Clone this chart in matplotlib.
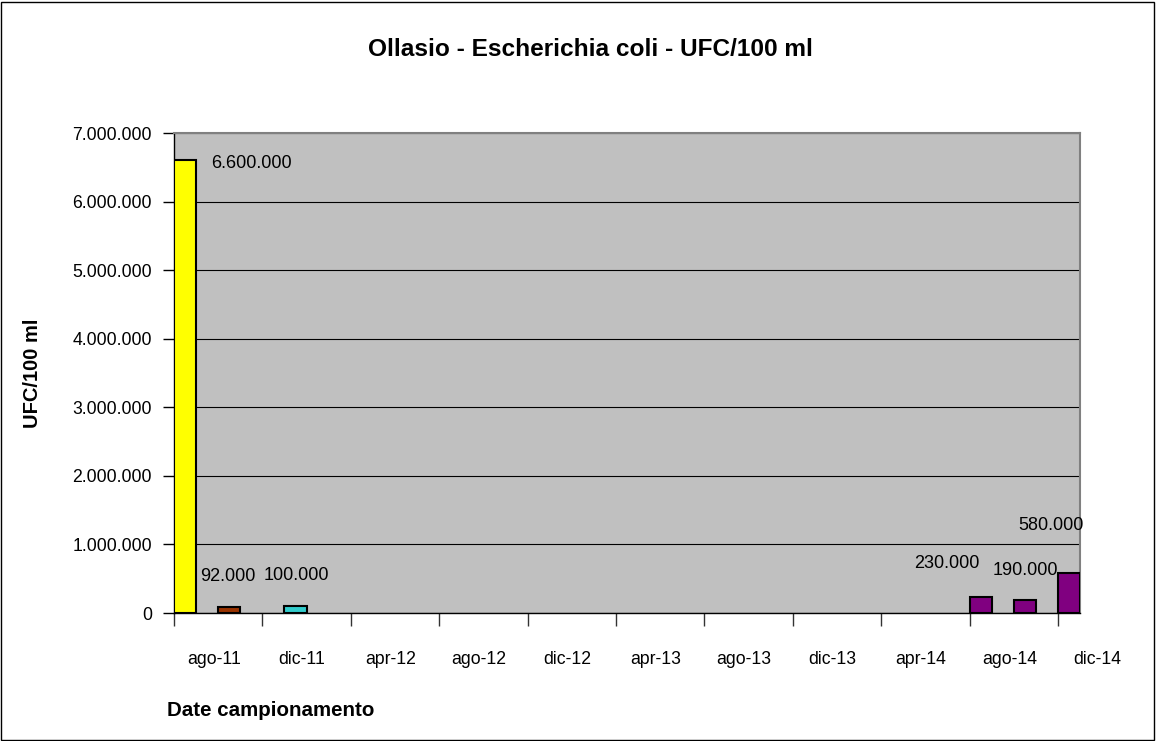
import matplotlib
matplotlib.use("Agg")
import matplotlib.pyplot as plt
from matplotlib.patches import Rectangle
from matplotlib.ticker import FuncFormatter, FixedLocator
from matplotlib.transforms import blended_transform_factory

plt.rcParams['font.family'] = ['Liberation Sans', 'DejaVu Sans']

# ---- data ----
months_it = ['gen', 'feb', 'mar', 'apr', 'mag', 'giu', 'lug', 'ago', 'set', 'ott', 'nov', 'dic']
sample_dates = ['ago-11', 'ott-11', 'gen-12', 'ago-14', 'ott-14', 'dic-14']
values = [6600000, 92000, 100000, 230000, 190000, 580000]
bar_colors = ['#FFFF00', '#993300', '#33CCCC', '#800080', '#800080', '#800080']
tick_labels = ['ago-11', 'dic-11', 'apr-12', 'ago-12', 'dic-12', 'apr-13',
               'ago-13', 'dic-13', 'apr-14', 'ago-14', 'dic-14']
yticks = [0, 1000000, 2000000, 3000000, 4000000, 5000000, 6000000, 7000000]
# label offsets in pixels (dx, dy) relative to bar top centre
label_offsets = [(66, -3), (-1, 30), (1, 31), (-34, 34), (1, 29), (-18, 48)]


def month_index(label, start='ago-11'):
    def absm(s):
        m, y = s.split('-')
        return int(y) * 12 + months_it.index(m)
    return absm(label) - absm(start)


W, H = 1156, 741
fig = plt.figure(figsize=(W / 100, H / 100), dpi=100)
ax = fig.add_axes([174 / W, 1 - 613 / H, (1080 - 174) / W, (613 - 133) / H])
ax.set_facecolor('#C0C0C0')

n_months = month_index('dic-14') + 1
xs = [month_index(d) for d in sample_dates]
ax.bar(xs, values, width=1.0, align='edge', color=bar_colors,
       edgecolor='black', linewidth=1.5, zorder=3)

ax.set_xlim(0, n_months)
ax.set_ylim(0, 7000000)

# grid
ax.set_yticks(yticks)
ax.yaxis.set_major_formatter(FuncFormatter(lambda v, p: f"{int(v):,}".replace(',', '.')))
ax.grid(axis='y', color='black', linewidth=0.8, zorder=1)
ax.tick_params(axis='y', direction='out', length=8, width=1, labelsize=12.7, pad=8)

# x ticks: marks every 4 months, labels between
tick_pos = [month_index(t) for t in tick_labels]
ax.xaxis.set_major_locator(FixedLocator(tick_pos))
ax.set_xticklabels([''] * len(tick_pos))
ax.tick_params(axis='x', direction='out', length=9, width=1, color='#333333')
tr = blended_transform_factory(ax.transData, ax.transAxes)
for p, lab in zip(tick_pos, tick_labels):
    ax.text(p + 1.8, -47 / 480, lab, transform=tr, ha='center', va='center',
            fontsize=12.7, clip_on=False)

for s in ['top', 'right']:
    ax.spines[s].set_color('#808080')
    ax.spines[s].set_linewidth(1.5)
for s in ['left', 'bottom']:
    ax.spines[s].set_color('black')
    ax.spines[s].set_linewidth(1)

# data labels
for x, v, (dx, dy) in zip(xs, values, label_offsets):
    ax.annotate(f"{v:,}".replace(',', '.'), xy=(x + 0.5, v), xytext=(dx, dy),
                textcoords='offset pixels', ha='center', va='center',
                fontsize=13, zorder=5, annotation_clip=False)

fig.text(590 / W, 1 - 50 / H, 'Ollasio - Escherichia coli - UFC/100 ml',
         ha='center', va='center', fontsize=17.6, fontweight='bold')
fig.text(33 / W, 1 - 373 / H, 'UFC/100 ml', rotation=90, ha='center', va='center',
         fontsize=14.5, fontweight='bold')
fig.text(167 / W, 1 - 711 / H, 'Date campionamento', ha='left', va='center',
         fontsize=14.8, fontweight='bold')

fig.patches.append(Rectangle((1 / W, 1 / H), 1 - 3 / W, 1 - 3 / H, transform=fig.transFigure,
                             fill=False, edgecolor='black', linewidth=1))

fig.savefig('out.png', dpi=100)
